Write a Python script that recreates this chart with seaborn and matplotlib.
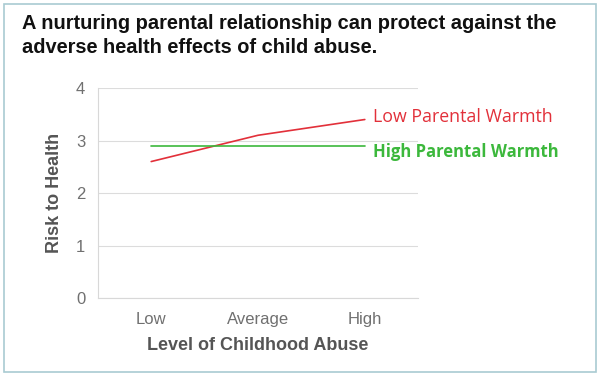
import pandas as pd
import matplotlib
matplotlib.use("Agg")
import matplotlib.pyplot as plt
from matplotlib.patches import Rectangle
import seaborn as sns

# Data
abuse_levels = ["Low", "Average", "High"]
low_warmth = [2.6, 3.1, 3.4]
high_warmth = [2.9, 2.9, 2.9]

df = pd.DataFrame({
    "abuse": abuse_levels * 2,
    "risk": low_warmth + high_warmth,
    "group": ["Low Parental Warmth"] * 3 + ["High Parental Warmth"] * 3,
})
df["x"] = list(range(3)) * 2

red = "#e2303a"
green = "#3cb83c"
palette = {"Low Parental Warmth": red, "High Parental Warmth": green}

sns.set_style("white")
plt.rcParams["font.family"] = ["Liberation Sans", "DejaVu Sans"]

fig = plt.figure(figsize=(6, 3.76), dpi=100)
ax = fig.add_axes([0.163, 0.207, 0.534, 0.559])

sns.lineplot(data=df, x="x", y="risk", hue="group", palette=palette,
             linewidth=1.2, legend=False, ax=ax)

ax.set_xlim(-0.5, 2.5)
ax.set_ylim(0, 4)
ax.set_yticks([0, 1, 2, 3, 4])
ax.set_xticks(range(3))
ax.set_xticklabels(abuse_levels)
ax.set_xticks([-0.5, 0.5, 1.5, 2.5], minor=True)
ax.tick_params(axis="x", which="major", length=0, pad=10, labelsize=12, labelcolor="#707070")
ax.tick_params(axis="x", which="minor", length=4, color="#d8d8d8", direction="out")
ax.tick_params(axis="y", length=3, color="#d8d8d8", pad=6, labelsize=12, labelcolor="#707070")
ax.grid(axis="y", color="#dcdcdc", linewidth=0.8)
for side in ["top", "right"]:
    ax.spines[side].set_visible(False)
for side in ["left", "bottom"]:
    ax.spines[side].set_color("#d8d8d8")
    ax.spines[side].set_linewidth(0.8)

ax.set_xlabel("Level of Childhood Abuse", fontsize=13, fontweight="bold", color="#555555", labelpad=7)
ax.set_ylabel("Risk to Health", fontsize=13, fontweight="bold", color="#555555", labelpad=9)

# Line labels
ax.text(2.08, low_warmth[-1] + 0.05, "Low Parental Warmth", color=red, fontsize=12.8,
        family=["Open Sans", "DejaVu Sans"], va="center", ha="left")
ax.text(2.08, high_warmth[-1] - 0.12, "High Parental Warmth", color=green, fontsize=12,
        fontweight="bold", family=["Open Sans", "DejaVu Sans"], va="center", ha="left")

# Title
fig.text(0.037, 0.962, "A nurturing parental relationship can protect against the\n"
         "adverse health effects of child abuse.",
         fontsize=14.4, fontweight="bold", color="#111111", va="top", ha="left", linespacing=1.3)

# Frame around the figure
fig.patches.append(Rectangle((0.007, 0.01), 0.986, 0.98, transform=fig.transFigure,
                             fill=False, edgecolor="#a9cbd2", linewidth=1.2))

fig.savefig("out.png", dpi=100)
